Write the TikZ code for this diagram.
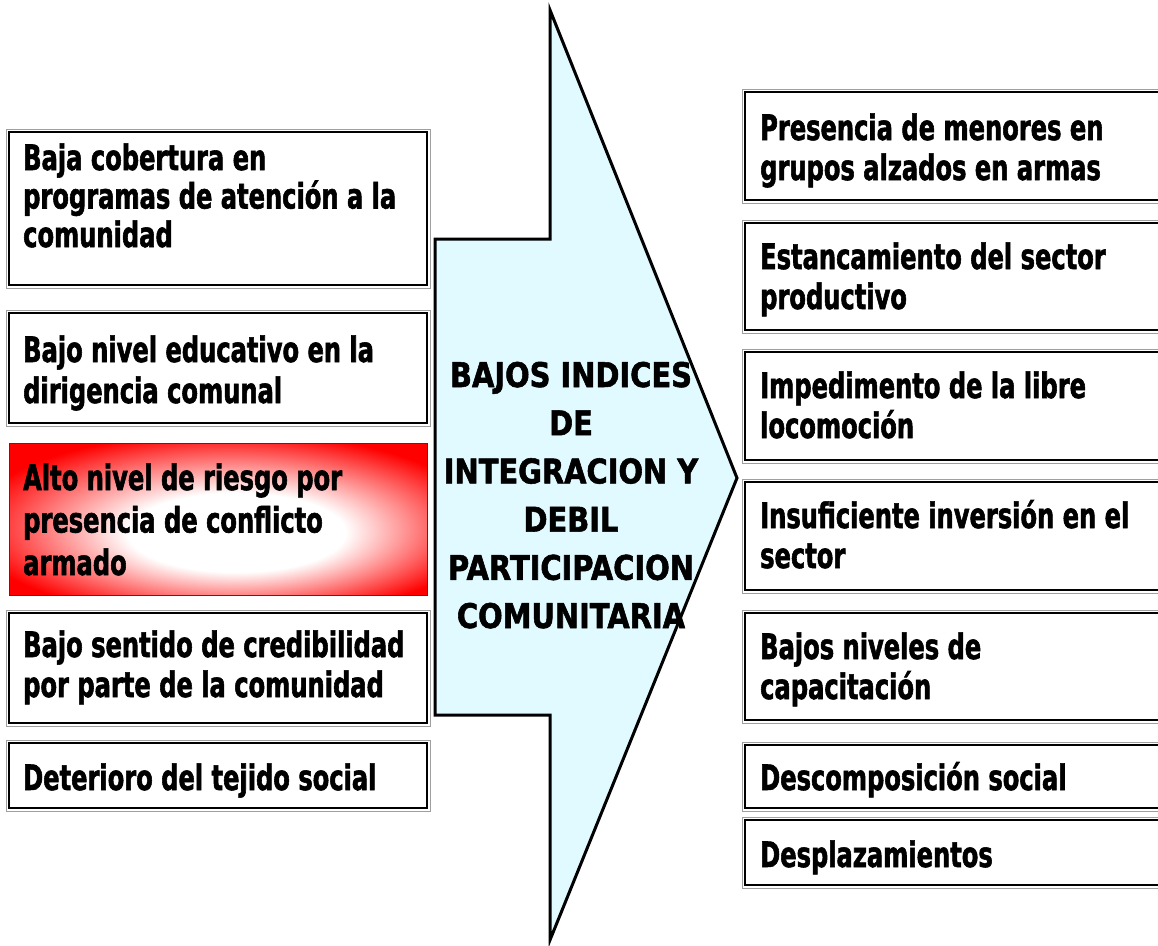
\documentclass[tikz,border=0pt]{standalone}
\usepackage{fontspec}
\newfontfamily\boxfont[FakeStretch=0.69,BoldFeatures={FakeBold=1.6}]{DejaVu Sans}
\newfontfamily\ctrfont[FakeStretch=0.85,BoldFeatures={FakeBold=1.6}]{DejaVu Sans}
\definecolor{arrowfill}{RGB}{224,250,255}
\pgfdeclareradialshading{glow}{\pgfpoint{3bp}{-6bp}}{color(0bp)=(white); color(13bp)=(white); color(31bp)=(red); color(50bp)=(red)}
\tikzset{
  cbox/.style={draw=black, line width=1.8pt, fill=white, inner sep=0pt, outer sep=0pt, anchor=north west, minimum width=#1},
  cbox/.default=418pt,
  gframe/.style={draw=gray!75, line width=0.8pt},
  ctxt/.style={anchor=base west, inner sep=0pt, align=left, font=\boxfont\bfseries\fontsize{35}{40}\selectfont},
  redbox/.style={draw=red!70!black, line width=0.8pt, shading=glow, inner sep=0pt, outer sep=0pt, anchor=north west, minimum width=418pt},
}
\begin{document}
\begin{tikzpicture}[x=1pt,y=-1pt]
\clip (0,0) rectangle (1158,945);
\fill[white] (0,0) rectangle (1158,945);
% central arrow
\coordinate (a1) at (435,239);
\coordinate (a2) at (550,239);
\coordinate (a3) at (550,10);
\coordinate (a4) at (737,478);
\coordinate (a5) at (550,940);
\coordinate (a6) at (550,715);
\coordinate (a7) at (435,715);
\draw[fill=arrowfill, line width=3pt, line join=miter] (a1) -- (a2) -- (a3) -- (a4) -- (a5) -- (a6) -- (a7) -- cycle;
% (base anchor of a multi-line node = baseline of its last line)
\node[anchor=base, inner sep=0pt, align=center, font=\ctrfont\bfseries\fontsize{34}{48.2}\selectfont] (center) at (571,628)
  {BAJOS INDICES\\DE\\INTEGRACION Y\\DEBIL\\PARTICIPACION\\COMUNITARIA};
% left boxes
\node[cbox, minimum height=153pt] (l1) at (9,132) {};
\node[cbox, minimum height=110pt] (l2) at (9,313) {};
\node[redbox, minimum height=152pt] (l3) at (9,443) {};
\node[cbox, minimum height=110pt] (l4) at (9,613) {};
\node[cbox, minimum height=65pt] (l5) at (9,743) {};
\foreach \n in {l1,l2,l4,l5}
  \draw[gframe] ([shift={(-3,-3)}]\n.north west) rectangle ([shift={(3,3)}]\n.south east);
\node[ctxt, font=\boxfont\bfseries\fontsize{35}{38.5}\selectfont] (t1) at (23,247) {Baja cobertura en\\programas de atención a la\\comunidad};
\node[ctxt, font=\boxfont\bfseries\fontsize{35}{41}\selectfont] (t2) at (23,403) {Bajo nivel educativo en la\\dirigencia comunal};
\node[ctxt, font=\boxfont\bfseries\fontsize{35}{42.5}\selectfont] (t3) at (23,575) {Alto nivel de riesgo por\\presencia de conflicto\\armado};
\node[ctxt] (t4) at (23,697) {Bajo sentido de credibilidad\\por parte de la comunidad};
\node[ctxt] (t5) at (23,790) {Deterioro del tejido social};
% right boxes
\node[cbox=430pt, minimum height=108pt] (r1) at (745,92) {};
\node[cbox=430pt, minimum height=107pt] (r2) at (745,223) {};
\node[cbox=430pt, minimum height=108pt] (r3) at (745,352) {};
\node[cbox=430pt, minimum height=108pt] (r4) at (745,482) {};
\node[cbox=430pt, minimum height=107pt] (r5) at (745,613) {};
\node[cbox=430pt, minimum height=63pt] (r6) at (745,745) {};
\node[cbox=430pt, minimum height=65pt] (r7) at (745,820) {};
\foreach \n in {r1,r2,r3,r4,r5,r6,r7}
  \draw[gframe] ([shift={(-3,-3)}]\n.north west) rectangle ([shift={(3,3)}]\n.south east);
\node[ctxt] (s1) at (760,180) {Presencia de menores en\\grupos alzados en armas};
\node[ctxt] (s2) at (760,309) {Estancamiento del sector\\productivo};
\node[ctxt] (s3) at (760,438) {Impedimento de la libre\\locomoción};
\node[ctxt] (s4) at (760,568) {Insuficiente inversión en el\\sector};
\node[ctxt] (s5) at (760,699) {Bajos niveles de\\capacitación};
\node[ctxt] (s6) at (760,790) {Descomposición social};
\node[ctxt] (s7) at (760,867) {Desplazamientos};
\end{tikzpicture}
\end{document}
